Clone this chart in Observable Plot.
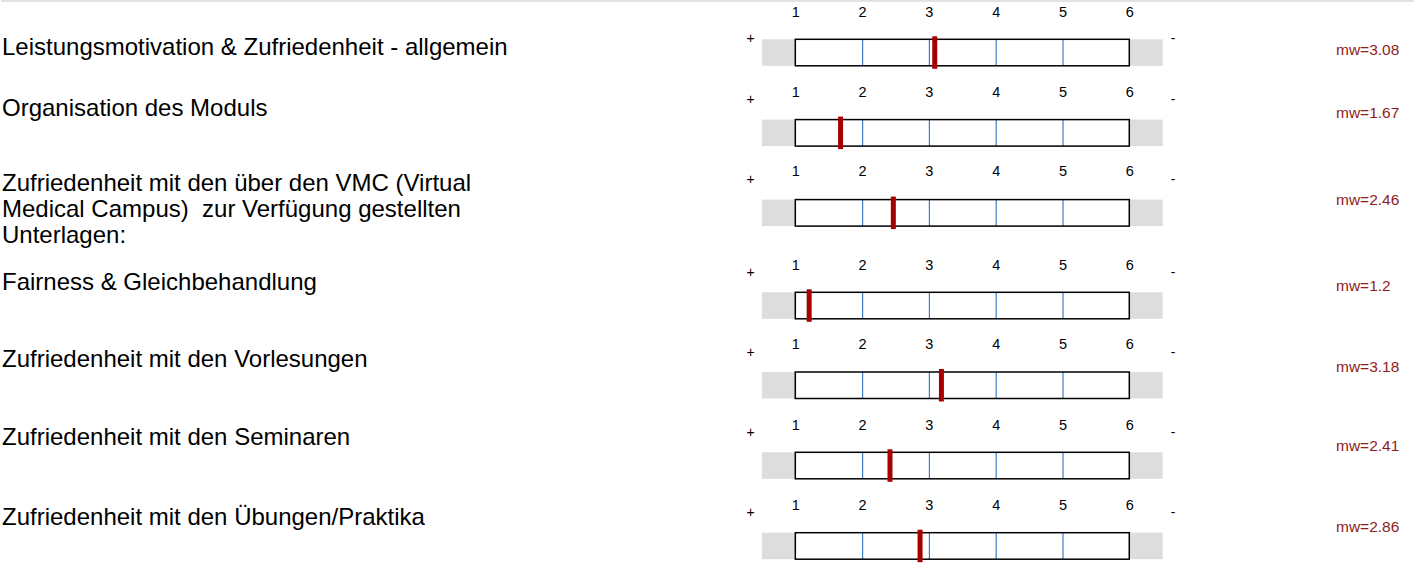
<!DOCTYPE html>
<html>
<head>
<meta charset="utf-8">
<script src="https://cdn.jsdelivr.net/npm/d3@7"></script>
<script src="https://cdn.jsdelivr.net/npm/@observablehq/plot@0.6"></script>
<style>
  html, body { margin: 0; padding: 0; background: #fff; }
  #page { position: relative; width: 1414px; height: 569px; overflow: hidden; font-family: "Liberation Sans", Arial, sans-serif; }
  #topline { position: absolute; left: 1px; top: 0; width: 1413px; height: 2px; background: #e2e2e2; }
  .lbl { position: absolute; left: 2px; font-size: 24px; line-height: 26px; color: #000; white-space: pre; }
  .mw { position: absolute; left: 1336px; font-size: 15.5px; line-height: 16px; color: #8e1d1d; white-space: nowrap; }
  .row { position: absolute; left: 740px; }
</style>
</head>
<body>
<div id="page"><div id="topline"></div></div>
<script>
// ---- data ----
const labels = [
  "Leistungsmotivation & Zufriedenheit - allgemein",
  "Organisation des Moduls",
  "Zufriedenheit mit den über den VMC (Virtual\nMedical Campus)  zur Verfügung gestellten\nUnterlagen:",
  "Fairness & Gleichbehandlung",
  "Zufriedenheit mit den Vorlesungen",
  "Zufriedenheit mit den Seminaren",
  "Zufriedenheit mit den Übungen/Praktika"
];
const means = [3.08, 1.67, 2.46, 1.2, 3.18, 2.41, 2.86];
const meanLabels = ["mw=3.08", "mw=1.67", "mw=2.46", "mw=1.2", "mw=3.18", "mw=2.41", "mw=2.86"];
const tickValues = [1, 2, 3, 4, 5, 6];
const gridValues = [2, 3, 4, 5];
const poleLabels = ["+", "-"];

// ---- layout (pixels) ----
const tickY   = [12, 91.7, 170.7, 265, 344.3, 425, 505];
const plusY   = [38, 99, 178.3, 272.3, 352.3, 432.3, 512.3];
const boxTop  = [39.3, 119.3, 199.3, 292.3, 372.3, 452.3, 532.7];
const labelY  = [47, 108, 183, 282, 359, 437, 517];
const mwY     = [50, 113, 200, 286, 367, 446, 527];
const boxH = 26.5;

const page = document.getElementById("page");
const scaleMin = d3.min(tickValues), scaleMax = d3.max(tickValues);

labels.forEach((lab, i) => {
  const d = document.createElement("div");
  d.className = "lbl";
  d.style.top = (labelY[i] - 13) + "px";
  d.textContent = lab;
  page.appendChild(d);

  const m = document.createElement("div");
  m.className = "mw";
  m.style.top = (mwY[i] - 8) + "px";
  m.textContent = meanLabels[i];
  page.appendChild(m);

  const svgTop = tickY[i] - 12;
  const mt = boxTop[i] - svgTop;
  const mb = 5;
  const H = mt + boxH + mb;
  const plot = Plot.plot({
    width: 440,
    height: H,
    marginTop: mt,
    marginBottom: mb,
    marginLeft: 0,
    marginRight: 0,
    x: {domain: [scaleMin, scaleMax], range: [55.3, 389.3], axis: null},
    style: {fontFamily: "Liberation Sans, Arial, sans-serif", overflow: "visible", background: "transparent"},
    marks: [
      Plot.rect([{a: scaleMin - 0.5, b: scaleMax + 0.5}], {x1: "a", x2: "b", fill: "#dddddd"}),
      Plot.rect([{a: scaleMin, b: scaleMax}], {x1: "a", x2: "b", fill: "#ffffff"}),
      Plot.ruleX(gridValues, {stroke: "#3d7fc6", strokeWidth: 1.2}),
      Plot.rect([{a: scaleMin, b: scaleMax}], {x1: "a", x2: "b", fill: "none", stroke: "#000", strokeWidth: 1.5}),
      Plot.ruleX([means[i]], {stroke: "#a80000", strokeWidth: 5, insetTop: -3, insetBottom: -3}),
      Plot.text(tickValues, {x: d => d, frameAnchor: "top", dy: -(boxTop[i] - tickY[i]), lineAnchor: "middle", fontSize: 14.5, fill: "#000"}),
      Plot.text([poleLabels[0]], {text: d => d, frameAnchor: "top-left", dx: 10, dy: -(boxTop[i] - plusY[i]), textAnchor: "middle", lineAnchor: "middle", fontSize: 14, fill: "#000"}),
      Plot.text([poleLabels[1]], {text: d => d, frameAnchor: "top-right", dx: -7.3, dy: -(boxTop[i] - plusY[i]), textAnchor: "middle", lineAnchor: "middle", fontSize: 14, fill: "#000"})
    ]
  });
  const wrap = document.createElement("div");
  wrap.className = "row";
  wrap.style.top = svgTop + "px";
  wrap.appendChild(plot);
  page.appendChild(wrap);
});
</script>
</body>
</html>
